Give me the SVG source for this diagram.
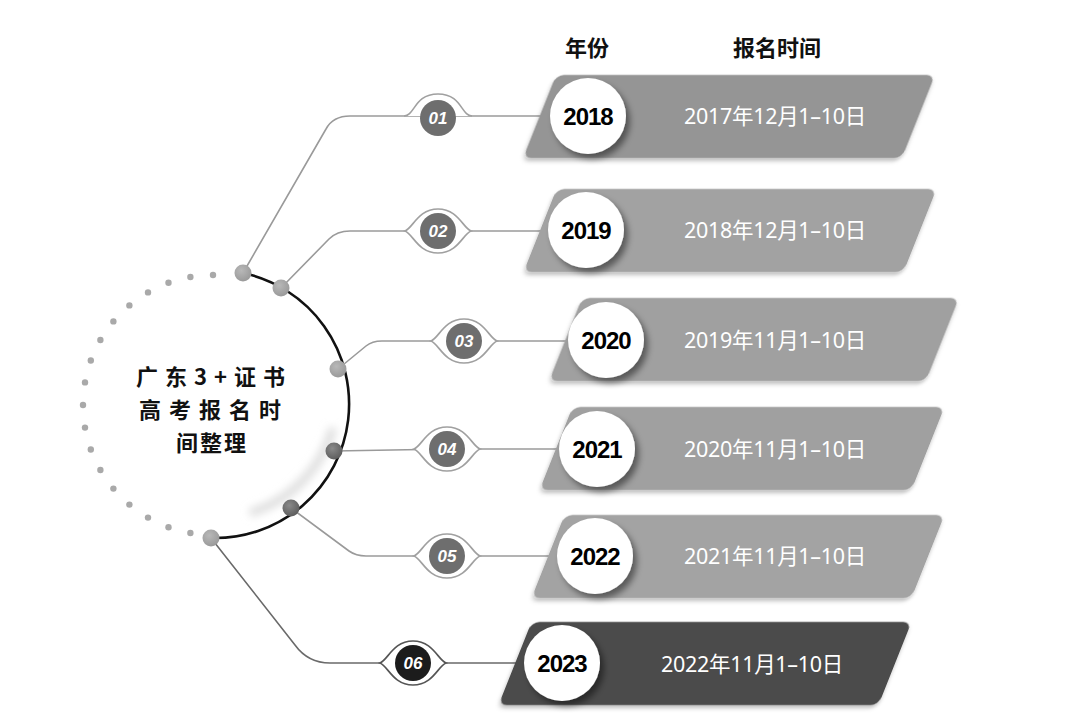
<svg xmlns="http://www.w3.org/2000/svg" width="1080" height="721" viewBox="0 0 1080 721">
<defs>
<filter id="sh" x="-30%" y="-30%" width="170%" height="170%"><feDropShadow dx="4" dy="5" stdDeviation="3" flood-color="#000" flood-opacity="0.45"/></filter>
<filter id="bsh" x="-10%" y="-20%" width="120%" height="150%"><feDropShadow dx="0" dy="3" stdDeviation="2" flood-color="#000" flood-opacity="0.25"/></filter>
<filter id="blur" x="-30%" y="-30%" width="160%" height="160%"><feGaussianBlur stdDeviation="4"/></filter>
<radialGradient id="ng" cx="40%" cy="35%" r="65%"><stop offset="0" stop-color="#b8b8b8"/><stop offset="1" stop-color="#9a9a9a"/></radialGradient>
<radialGradient id="ngd" cx="40%" cy="35%" r="65%"><stop offset="0" stop-color="#8a8a8a"/><stop offset="1" stop-color="#5e5e5e"/></radialGradient>
</defs>
<style>
.dot{fill:#a9a9a9}
.conn{fill:none;stroke:#9a9a9a;stroke-width:1.6}
.lens{fill:#fff;stroke:#a0a0a0;stroke-width:1.6}
.badge{fill:#6e6e6e}
.bnum{font-family:"Liberation Sans",Arial,sans-serif;font-weight:bold;font-style:italic;font-size:17px;fill:#fff;text-anchor:middle}
.year{font-family:"Liberation Sans",Arial,sans-serif;font-weight:bold;font-size:24px;fill:#000;text-anchor:middle;letter-spacing:-1px}
.date{font-family:"Noto Sans","Noto Sans CJK SC",sans-serif;font-size:21.5px;fill:#fff;text-anchor:middle;letter-spacing:-0.3px}
.hdr{font-family:"Noto Sans CJK SC",sans-serif;font-weight:bold;font-size:22px;fill:#111;text-anchor:middle}
.ttl{font-family:"Noto Sans CJK SC",sans-serif;font-weight:bold;font-size:22px;fill:#111;text-anchor:middle}
.wc{fill:#fff;filter:url(#sh)}
</style>
<rect width="1080" height="721" fill="#fff"/>

<g id="headers">
<text class="hdr" x="587" y="56">年份</text>
<text class="hdr" x="777" y="56">报名时间</text>
</g>

<g id="center">
<g id="dots">
<circle class="dot" cx="190.4" cy="533.0" r="3.2"/>
<circle class="dot" cx="168.5" cy="527.2" r="3.2"/>
<circle class="dot" cx="148.0" cy="517.6" r="3.2"/>
<circle class="dot" cx="129.4" cy="504.6" r="3.2"/>
<circle class="dot" cx="113.4" cy="488.6" r="3.2"/>
<circle class="dot" cx="100.4" cy="470.0" r="3.2"/>
<circle class="dot" cx="90.8" cy="449.5" r="3.2"/>
<circle class="dot" cx="85.0" cy="427.6" r="3.2"/>
<circle class="dot" cx="83.0" cy="405.0" r="3.2"/>
<circle class="dot" cx="85.0" cy="382.4" r="3.2"/>
<circle class="dot" cx="90.8" cy="360.5" r="3.2"/>
<circle class="dot" cx="100.4" cy="340.0" r="3.2"/>
<circle class="dot" cx="113.4" cy="321.4" r="3.2"/>
<circle class="dot" cx="129.4" cy="305.4" r="3.2"/>
<circle class="dot" cx="148.0" cy="292.4" r="3.2"/>
<circle class="dot" cx="168.5" cy="282.8" r="3.2"/>
<circle class="dot" cx="190.4" cy="277.0" r="3.2"/>
<circle class="dot" cx="213.0" cy="275.0" r="3.2"/>
</g>
<path d="M333,428 A124,124 0 0 1 250,513" fill="none" stroke="#dcdcdc" stroke-width="8" filter="url(#blur)"/>
<path d="M243,273 A134,134 0 0 1 211,538" fill="none" stroke="#111" stroke-width="2.6"/>
<text class="ttl" x="214" y="385" letter-spacing="7">广东3+证书</text>
<text class="ttl" x="214" y="418" letter-spacing="8">高考报名时</text>
<text class="ttl" x="212" y="451" letter-spacing="2">间整理</text>
</g>

<g id="connectors">
<path class="conn" d="M243,273 L326,129 Q333,116 350,116 L545,116"/>
<path class="conn" d="M281,288 L329,239 Q337,231 350,231 L548,231"/>
<path class="conn" d="M338,369 L366,346 Q372,341 382,341 L570,341"/>
<path class="conn" d="M334,451 L450,449 L562,449"/>
<path class="conn" d="M291,508 L349,551 Q356,556 366,556 L555,556"/>
<path class="conn" d="M211,538 L295,645 Q308,663 330,663 L525,663" style="stroke:#6a6a6a"/>
</g>

<g id="arc-nodes">
<circle cx="243" cy="273" r="8.5" fill="url(#ng)"/>
<circle cx="281" cy="288" r="8.5" fill="url(#ng)"/>
<circle cx="338" cy="369" r="8.5" fill="url(#ng)"/>
<circle cx="334" cy="451" r="8.5" fill="url(#ngd)"/>
<circle cx="291" cy="508" r="8.5" fill="url(#ngd)"/>
<circle cx="211" cy="538" r="8.5" fill="url(#ng)"/>
</g>

<g id="badge01">
<path class="lens" d="M404,116 C415,116 414,94 438,94 C462,94 461,116 472,116"/>
<circle class="badge" cx="438" cy="118" r="18"/>
<text class="bnum" x="438" y="124">01</text>
</g>
<g id="badge02">
<path class="lens" d="M405,231 C413,228 418,209 438,209 C458,209 463,228 471,231 C463,234 458,253 438,253 C418,253 413,234 405,231 Z"/>
<circle class="badge" cx="438" cy="231" r="18"/>
<text class="bnum" x="438" y="237">02</text>
</g>
<g id="badge03">
<path class="lens" d="M431,341 C439,338 444,319 464,319 C484,319 489,338 497,341 C489,344 484,363 464,363 C444,363 439,344 431,341 Z"/>
<circle class="badge" cx="464" cy="341" r="18"/>
<text class="bnum" x="464" y="347">03</text>
</g>
<g id="badge04">
<path class="lens" d="M414,449 C422,446 427,427 447,427 C467,427 472,446 480,449 C472,452 467,471 447,471 C427,471 422,452 414,449 Z"/>
<circle class="badge" cx="447" cy="449" r="18"/>
<text class="bnum" x="447" y="455">04</text>
</g>
<g id="badge05">
<path class="lens" d="M414,556 C422,553 427,534 447,534 C467,534 472,553 480,556 C472,559 467,578 447,578 C427,578 422,559 414,556 Z"/>
<circle class="badge" cx="447" cy="556" r="18"/>
<text class="bnum" x="447" y="562">05</text>
</g>
<g id="badge06">
<path class="lens" d="M380,663 C388,660 393,641 413,641 C433,641 438,660 446,663 C438,666 433,685 413,685 C393,685 388,666 380,663 Z" style="stroke:#555"/>
<circle cx="413" cy="663" r="18" fill="#1c1c1c"/>
<text class="bnum" x="413" y="669">06</text>
</g>

<g id="row2018">
<g transform="translate(729,116.5) skewX(-21.7)"><rect x="-189.5" y="-41.5" width="379" height="83" rx="8" fill="#959595" filter="url(#bsh)"/></g>
<circle class="wc" cx="588" cy="116" r="38"/>
<text class="year" x="588" y="125">2018</text>
<text class="date" x="775" y="124">2017年12月1–10日</text>
</g>
<g id="row2019">
<g transform="translate(730,230.5) skewX(-21.7)"><rect x="-190" y="-41.5" width="380" height="83" rx="8" fill="#a2a2a2" filter="url(#bsh)"/></g>
<circle class="wc" cx="586" cy="230" r="38"/>
<text class="year" x="586" y="239">2019</text>
<text class="date" x="775" y="238">2018年12月1–10日</text>
</g>
<g id="row2020">
<g transform="translate(754,339.5) skewX(-21.7)"><rect x="-188.5" y="-41.5" width="377" height="83" rx="8" fill="#a0a0a0" filter="url(#bsh)"/></g>
<circle class="wc" cx="606" cy="340" r="38"/>
<text class="year" x="606" y="349">2020</text>
<text class="date" x="775" y="348">2019年11月1–10日</text>
</g>
<g id="row2021">
<g transform="translate(742,448.5) skewX(-21.7)"><rect x="-186" y="-41.5" width="372" height="83" rx="8" fill="#a0a0a0" filter="url(#bsh)"/></g>
<circle class="wc" cx="597" cy="449" r="38"/>
<text class="year" x="597" y="458">2021</text>
<text class="date" x="775" y="457">2020年11月1–10日</text>
</g>
<g id="row2022">
<g transform="translate(738,556.5) skewX(-21.7)"><rect x="-190" y="-41.5" width="380" height="83" rx="8" fill="#a3a3a3" filter="url(#bsh)"/></g>
<circle class="wc" cx="595" cy="556" r="38"/>
<text class="year" x="595" y="565">2022</text>
<text class="date" x="775" y="564">2021年11月1–10日</text>
</g>
<g id="row2023">
<g transform="translate(705,663.5) skewX(-21.7)"><rect x="-190" y="-41.5" width="380" height="83" rx="8" fill="#4b4b4b" filter="url(#bsh)"/></g>
<circle class="wc" cx="562" cy="663" r="38"/>
<text class="year" x="562" y="672">2023</text>
<text class="date" x="752" y="672">2022年11月1–10日</text>
</g>
</svg>
